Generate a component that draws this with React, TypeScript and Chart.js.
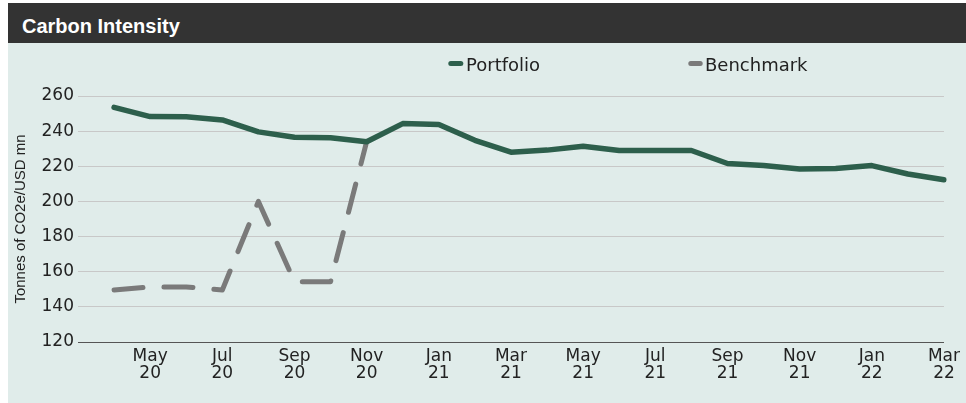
import React, { useEffect, useRef } from "react";
import { Chart, registerables } from "chart.js";

Chart.register(...registerables);

// Categories (monthly, Mar 20 is an empty leading slot on the axis)
const months = [
  "Mar 20", "Apr 20", "May 20", "Jun 20", "Jul 20", "Aug 20", "Sep 20", "Oct 20", "Nov 20",
  "Dec 20", "Jan 21", "Feb 21", "Mar 21", "Apr 21", "May 21", "Jun 21", "Jul 21", "Aug 21",
  "Sep 21", "Oct 21", "Nov 21", "Dec 21", "Jan 22", "Feb 22", "Mar 22",
];

// Series values (Tonnes of CO2e / USD mn)
const portfolio: (number | null)[] = [
  null, 253.5, 248.3, 248.2, 246.4, 239.6, 236.5, 236.2, 234.0,
  244.3, 243.8, 234.8, 228.0, 229.2, 231.4, 229.0, 229.0, 229.0,
  221.6, 220.4, 218.4, 218.8, 220.4, 215.6, 212.3,
];

const benchmark: (number | null)[] = [
  null, 149.6, 151.4, 151.3, 149.6, 200.0, 154.3, 154.3, 234.0,
  null, null, null, null, null, null, null, null, null,
  null, null, null, null, null, null, null,
];

// Tick labels
const xTickLabels = [
  "May 20", "Jul 20", "Sep 20", "Nov 20", "Jan 21", "Mar 21",
  "May 21", "Jul 21", "Sep 21", "Nov 21", "Jan 22", "Mar 22",
];
const yTicks = [120, 140, 160, 180, 200, 220, 240, 260];

const seriesNames = ["Portfolio", "Benchmark"];
const seriesColors = ["#2d5f4c", "#7a7a7a"];

const legendPlugin = {
  id: "customLegend",
  afterDraw(chart: any) {
    const ctx = chart.ctx as CanvasRenderingContext2D;
    const slots = [
      { x0: 442.8, x1: 452.8, tx: 458 },
      { x0: 682.8, x1: 692.2, tx: 697 },
    ];
    ctx.save();
    chart.data.datasets.forEach((ds: any, i: number) => {
      const s = slots[i];
      if (!s) return;
      ctx.beginPath();
      ctx.setLineDash([]);
      ctx.lineCap = "round";
      ctx.lineWidth = 5;
      ctx.strokeStyle = ds.borderColor;
      ctx.moveTo(s.x0, 20.5);
      ctx.lineTo(s.x1, 20.5);
      ctx.stroke();
      ctx.fillStyle = "#222222";
      ctx.font = "18px 'DejaVu Sans'";
      ctx.textBaseline = "alphabetic";
      ctx.textAlign = "left";
      ctx.fillText(ds.label, s.tx, 27.7);
    });
    ctx.restore();
  },
};

export default function App() {
  const canvasRef = useRef<HTMLCanvasElement | null>(null);

  useEffect(() => {
    if (!canvasRef.current) return;
    const chart = new Chart(canvasRef.current, {
      type: "line",
      data: {
        labels: months,
        datasets: [
          {
            label: seriesNames[0],
            data: portfolio,
            borderColor: seriesColors[0],
            backgroundColor: seriesColors[0],
            borderWidth: 5.5,
            borderCapStyle: "round",
            borderJoinStyle: "round",
            pointRadius: 0,
            tension: 0,
            fill: false,
          },
          {
            label: seriesNames[1],
            data: benchmark,
            borderColor: seriesColors[1],
            backgroundColor: seriesColors[1],
            borderWidth: 5,
            borderDash: [29, 21],
            borderCapStyle: "round",
            borderJoinStyle: "round",
            pointRadius: 0,
            tension: 0,
            fill: false,
          },
        ],
      },
      options: {
        animation: false,
        responsive: false,
        layout: { padding: { top: 53, right: 20, left: 0, bottom: 0 } },
        plugins: {
          legend: { display: false },
          tooltip: { enabled: false },
          title: { display: false },
        },
        scales: {
          x: {
            type: "category",
            offset: false,
            grid: { display: false, drawTicks: false },
            border: { display: true, color: "#555555", width: 1 },
            ticks: {
              autoSkip: false,
              maxRotation: 0,
              minRotation: 0,
              padding: 6,
              color: "#222222",
              font: { family: "'DejaVu Sans'", size: 17, lineHeight: 1 },
              callback: (_v: any, index: number) => {
                const m = months[index];
                return xTickLabels.includes(m) ? m.split(" ") : "";
              },
            },
            afterFit: (scale: any) => {
              scale.height = 61;
            },
          },
          y: {
            min: yTicks[0],
            max: yTicks[yTicks.length - 1],
            grid: { color: "#c8c8c8", lineWidth: 1, drawTicks: false },
            border: { display: false },
            ticks: {
              stepSize: yTicks[1] - yTicks[0],
              padding: 4,
              color: "#222222",
              font: { family: "'DejaVu Sans'", size: 17 },
            },
            title: {
              display: true,
              text: "Tonnes of CO2e/USD mn",
              color: "#222222",
              font: { family: "'Liberation Sans', Arial, sans-serif", size: 15 },
              padding: { top: 4, bottom: 0 },
            },
            afterFit: (scale: any) => {
              scale.width = 70;
            },
          },
        },
      },
      plugins: [legendPlugin],
    } as any);
    return () => chart.destroy();
  }, []);

  return (
    <div
      style={{
        position: "fixed",
        left: 8,
        top: 3,
        width: 958,
        height: 400,
        background: "#e0ecea",
      }}
    >
      <div
        style={{
          height: 40,
          background: "#333333",
          color: "#ffffff",
          fontFamily: "'Liberation Sans', Arial, sans-serif",
          fontWeight: "bold",
          fontSize: 20,
          lineHeight: "34px",
          paddingTop: 6,
          paddingLeft: 14,
          boxSizing: "border-box",
          whiteSpace: "nowrap",
        }}
      >
        Carbon Intensity
      </div>
      <canvas ref={canvasRef} width={958} height={360} style={{ display: "block" }} />
    </div>
  );
}
